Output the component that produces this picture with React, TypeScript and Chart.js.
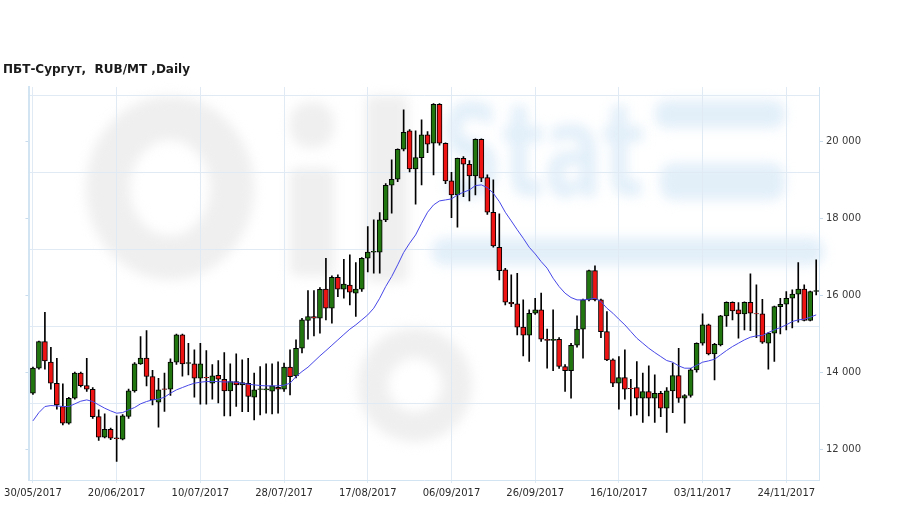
import React, { useEffect, useRef } from "react";
import { Chart, registerables } from "chart.js";

Chart.register(...registerables);

// X tick labels (one every 14 trading days, starting at candle 0)
const tickLabels = [
  "30/05/2017", "20/06/2017", "10/07/2017", "28/07/2017", "17/08/2017",
  "06/09/2017", "26/09/2017", "16/10/2017", "03/11/2017", "24/11/2017",
];
const labelStep = 14;

const openP = [
  13454, 14104, 14796, 14260, 13714, 13108, 12675, 13324, 13974, 13653,
  13558, 12848, 12312, 12519, 12295, 12260, 12849, 13515, 14217, 14364,
  13888, 13221, 13570, 13559, 14260, 14970, 14230, 14217, 13844, 13870,
  13714, 13922, 13818, 13515, 13758, 13671, 13714, 13351, 13550, 13541,
  13506, 13610, 13558, 14130, 13905, 14623, 15342, 15446, 15402, 16156,
  15662, 16467, 16156, 16260, 16052, 16156, 16961, 17117, 17117, 17956,
  18857, 19013, 19792, 20267, 19280, 19575, 20163, 19946, 20960, 19946,
  18969, 18605, 19557, 19401, 19098, 20051, 19055, 18155, 17246, 16657,
  15818, 15775, 15169, 14961, 15532, 15619, 14857, 14823, 14857, 14147,
  14043, 14701, 15117, 15878, 16640, 15878, 15056, 14320, 13714, 13861,
  13580, 13601, 13324, 13497, 13324, 13454, 13065, 13515, 13913, 13324,
  13394, 14060, 14753, 15229, 14476, 14710, 15463, 15818, 15619, 15515,
  15818, 15525, 15515, 14753, 15013, 15705, 15766, 15922, 16026, 16156,
  15342, 16100,
];
const highP = [
  14130, 14810, 15558, 14649, 14363, 13697, 13350, 14000, 14000, 14363,
  13600, 13022, 12918, 12550, 12866, 12900, 13560, 14250, 14926, 15082,
  14050, 13844, 13974, 14350, 14990, 14990, 14753, 14580, 14753, 14563,
  14200, 14300, 14511, 14216, 14476, 14320, 14363, 13974, 14147, 14216,
  14216, 14268, 14240, 14580, 14840, 15400, 16121, 16121, 16200, 16961,
  16500, 16528, 16935, 17047, 16848, 16980, 17783, 17956, 18147, 18900,
  19515, 19800, 20813, 20300, 20267, 20553, 20250, 20980, 20980, 19960,
  19194, 19560, 19600, 19500, 20060, 20060, 19124, 18995, 18111, 16700,
  16528, 16571, 15878, 15620, 15922, 16052, 15117, 15619, 14900, 14200,
  14750, 15463, 15900, 16650, 16762, 15900, 15575, 14350, 14406, 14580,
  13818, 14277, 13974, 14164, 13930, 13500, 13600, 14234, 14623, 13420,
  14100, 14760, 15515, 15250, 14750, 15480, 15830, 15830, 15809, 15830,
  16554, 16268, 15896, 15030, 15720, 15922, 16095, 16138, 16848, 16268,
  16110, 16917,
];
const lowP = [
  13420, 14080, 14078, 13558, 13039, 12632, 12650, 13300, 13620, 13500,
  12800, 12225, 12290, 12250, 11680, 12240, 12800, 13480, 14200, 13645,
  13152, 12572, 12979, 13400, 14200, 13900, 13931, 13351, 13169, 13169,
  13300, 13200, 12866, 12866, 13108, 12978, 12978, 12762, 12892, 12935,
  12918, 12935, 13500, 13411, 13850, 14500, 14857, 14940, 15012, 15359,
  15273, 15965, 15922, 15749, 15446, 16100, 16606, 16571, 16571, 17913,
  18130, 18950, 19750, 19200, 18362, 18865, 19700, 19124, 19900, 18900,
  18016, 17765, 18562, 18449, 18605, 18950, 18100, 17250, 16397, 15750,
  15700, 14970, 14424, 14277, 15500, 14800, 14104, 14043, 14100, 13498,
  13325, 14650, 14364, 15850, 15850, 14900, 14300, 13627, 13039, 13299,
  12866, 12892, 12693, 12866, 12693, 12848, 12433, 12952, 13212, 12675,
  13350, 14000, 14700, 14450, 13800, 14680, 15186, 15359, 14883, 15100,
  15082, 14900, 14750, 14078, 14277, 14996, 15100, 15150, 15300, 15330,
  15330, 16008,
];
const closeP = [
  14104, 14796, 14294, 13714, 13151, 12675, 13324, 13974, 13653, 13558,
  12848, 12312, 12519, 12286, 12275, 12866, 13515, 14217, 14364, 13888,
  13282, 13541, 13550, 14260, 14970, 14217, 14250, 13844, 14217, 13850,
  13905, 13818, 13515, 13758, 13671, 13731, 13368, 13541, 13570, 13565,
  13645, 13558, 14130, 13887, 14623, 15359, 15446, 15402, 16155, 15662,
  16467, 16156, 16286, 16078, 16156, 16961, 17117, 17140, 17956, 18857,
  19013, 19792, 20233, 19280, 19575, 20163, 19921, 20960, 19946, 18969,
  18605, 19557, 19401, 19098, 20051, 19038, 18155, 17280, 16640, 15817,
  15775, 15169, 14961, 15532, 15619, 14857, 14823, 14857, 14147, 14043,
  14701, 15117, 15878, 16640, 15878, 15056, 14320, 13714, 13861, 13558,
  13570, 13324, 13497, 13324, 13454, 13065, 13515, 13913, 13324, 13394,
  14060, 14753, 15229, 14476, 14727, 15463, 15818, 15593, 15515, 15818,
  15532, 15515, 14779, 15013, 15705, 15766, 15922, 16026, 16156, 15342,
  16095, 16120,
];
const maLine = [
  12736, 12952, 13108, 13134, 13125, 13108, 13108, 13177, 13247, 13281,
  13238, 13151, 13065, 12995, 12935, 12952, 13020, 13083, 13178, 13238,
  13282, 13299, 13351, 13455, 13541, 13602, 13662, 13714, 13740, 13758,
  13758, 13758, 13745, 13749, 13740, 13714, 13688, 13671, 13654, 13645,
  13645, 13645, 13662, 13714, 13887, 14017, 14130, 14277, 14424, 14560,
  14700, 14840, 14980, 15117, 15230, 15359, 15489, 15662, 15922, 16225,
  16485, 16788, 17108, 17350, 17566, 17869, 18155, 18345, 18449, 18475,
  18501, 18605, 18674, 18735, 18847, 18865, 18795, 18648, 18432, 18155,
  17930, 17700, 17480, 17246, 17073, 16874, 16701, 16441, 16225, 16052,
  15939, 15878, 15878, 15896, 15922, 15835, 15662, 15532, 15376, 15229,
  15056, 14883, 14753, 14623, 14511, 14407, 14303, 14260, 14164, 14104,
  14104, 14177, 14260, 14294, 14337, 14450, 14563, 14666, 14753, 14840,
  14909, 14944, 14952, 15030, 15100, 15160, 15229, 15316, 15359, 15376,
  15428, 15489,
];

const yLabelValues = [12000, 14000, 16000, 18000, 20000];
const yGridValues = [13200, 15200, 17200, 19200, 21200];

const TITLE = "ПБТ-Сургут,  RUB/MT ,Daily";
const GREEN = "#21760f";
const RED = "#ee1414";
const GRID = "#dfeaf5";
const BORDER = "#d2e3f2";

const fmt = (v: number) => String(v).replace(/\B(?=(\d{3})+(?!\d))/g, " ");

const watermark = {
  id: "watermark",
  beforeDraw(chart: any) {
    const ctx = chart.ctx;
    ctx.save();
    ctx.fillStyle = "#fff";
    ctx.fillRect(0, 0, chart.width, chart.height);
    ctx.filter = "blur(6px)";
    // "Oil" in light grey
    ctx.strokeStyle = "#efefef";
    ctx.fillStyle = "#efefef";
    ctx.lineWidth = 44;
    ctx.beginPath();
    ctx.ellipse(170, 188, 62, 70, 0, 0, Math.PI * 2);
    ctx.stroke();
    ctx.beginPath();
    ctx.roundRect(290, 168, 44, 108, 6);
    ctx.fill();
    ctx.beginPath();
    ctx.roundRect(290, 102, 44, 46, 20);
    ctx.fill();
    ctx.beginPath();
    ctx.roundRect(366, 96, 42, 186, 6);
    ctx.fill();
    ctx.lineWidth = 30;
    ctx.beginPath();
    ctx.arc(415, 385, 42, 0, Math.PI * 2);
    ctx.stroke();
    // "Stat" in light blue
    ctx.fillStyle = "#e2eff9";
    ctx.save();
    ctx.translate(440, 196);
    ctx.scale(0.68, 1);
    ctx.font = "bold 128px 'DejaVu Sans'";
    ctx.fillText("Stat", 0, 0);
    ctx.restore();
    ctx.beginPath();
    ctx.roundRect(655, 100, 130, 28, 12);
    ctx.fill();
    ctx.beginPath();
    ctx.roundRect(660, 163, 125, 37, 14);
    ctx.fill();
    ctx.beginPath();
    ctx.roundRect(432, 238, 392, 27, 12);
    ctx.fill();
    ctx.restore();
  },
  afterDraw(chart: any) {
    const ctx = chart.ctx;
    ctx.save();
    ctx.fillStyle = "#1a1a1a";
    ctx.font = "bold 12px 'DejaVu Sans'";
    ctx.textBaseline = "alphabetic";
    ctx.fillText(TITLE, 3, 73);
    ctx.restore();
  },
};

export default function App() {
  const ref = useRef<HTMLCanvasElement>(null);
  useEffect(() => {
    const idx = openP.map((_, i) => i);
    const bodies = idx.map((i) => ({ x: i, y: [openP[i], closeP[i]] }));
    const wicks = idx.map((i) => ({ x: i, y: [lowP[i], highP[i]] }));
    const ma = idx.map((i) => ({ x: i, y: maLine[i] }));
    const bodyColors = idx.map((i) => (closeP[i] >= openP[i] ? GREEN : RED));
    const xTicks = tickLabels.map((_, k) => k * labelStep);

    const chart = new Chart(ref.current as HTMLCanvasElement, {
      type: "bar",
      data: {
        datasets: [
          {
            type: "line",
            data: ma as any,
            borderColor: "#4747e8",
            borderWidth: 1,
            pointRadius: 0,
            tension: 0,
            order: 0,
          } as any,
          {
            data: bodies as any,
            backgroundColor: bodyColors,
            borderColor: "#000",
            borderWidth: 1,
            borderSkipped: false,
            barThickness: 5,
            grouped: false,
            order: 1,
          } as any,
          {
            data: wicks as any,
            backgroundColor: "#000",
            borderWidth: 0,
            barThickness: 1,
            grouped: false,
            order: 2,
          } as any,
        ],
      },
      options: {
        animation: false,
        responsive: false,
        events: [],
        layout: { padding: { left: 23, top: 87, right: 0, bottom: 0 } },
        plugins: { legend: { display: false }, tooltip: { enabled: false }, title: { display: false } },
        scales: {
          x: {
            type: "linear",
            position: "bottom",
            offset: false,
            min: -0.58,
            max: 131.47,
            afterBuildTicks: (s: any) => {
              s.ticks = xTicks.map((v) => ({ value: v }));
            },
            afterFit: (s: any) => {
              s.height = 29;
            },
            ticks: {
              autoSkip: false,
              maxRotation: 0,
              padding: 4,
              color: "#2a2a2a",
              font: { family: "'DejaVu Sans'", size: 10 },
              callback: (v: any) => tickLabels[Math.round(Number(v) / labelStep)] ?? "",
            },
            grid: { offset: false, color: GRID, tickColor: GRID, tickLength: 3 },
            border: { color: BORDER, width: 1 },
          },
          y: {
            type: "linear",
            position: "right",
            min: 11200,
            max: 21408,
            afterBuildTicks: (s: any) => {
              s.ticks = [...yLabelValues, ...yGridValues].sort((a, b) => a - b).map((v) => ({ value: v }));
            },
            afterFit: (s: any) => {
              s.width = 90;
            },
            ticks: {
              padding: 3,
              color: "#3a3a3a",
              font: { family: "'DejaVu Sans'", size: 10 },
              callback: (v: any) => (yLabelValues.includes(Number(v)) ? fmt(Number(v)) : ""),
            },
            grid: {
              color: (c: any) => (c.tick && yLabelValues.includes(c.tick.value) ? "rgba(0,0,0,0)" : GRID),
              tickColor: (c: any) => (c.tick && yLabelValues.includes(c.tick.value) ? "#c9dcee" : "rgba(0,0,0,0)"),
              tickLength: 4,
            },
            border: { color: BORDER, width: 1 },
          },
          yl: {
            type: "linear",
            position: "left",
            min: 11200,
            max: 21408,
            afterBuildTicks: (s: any) => {
              s.ticks = yLabelValues.map((v) => ({ value: v }));
            },
            afterFit: (s: any) => {
              s.width = 5;
            },
            ticks: { display: false },
            grid: { drawOnChartArea: false, tickColor: "#c9dcee", tickLength: 4 },
            border: { color: BORDER, width: 2 },
          },
        },
      } as any,
      plugins: [watermark],
    });
    return () => chart.destroy();
  }, []);
  return (
    <div style={{ position: "fixed", left: 0, top: 0, width: 909, height: 509, background: "#fff" }}>
      <canvas ref={ref} width={909} height={509} style={{ width: 909, height: 509, display: "block" }} />
    </div>
  );
}
